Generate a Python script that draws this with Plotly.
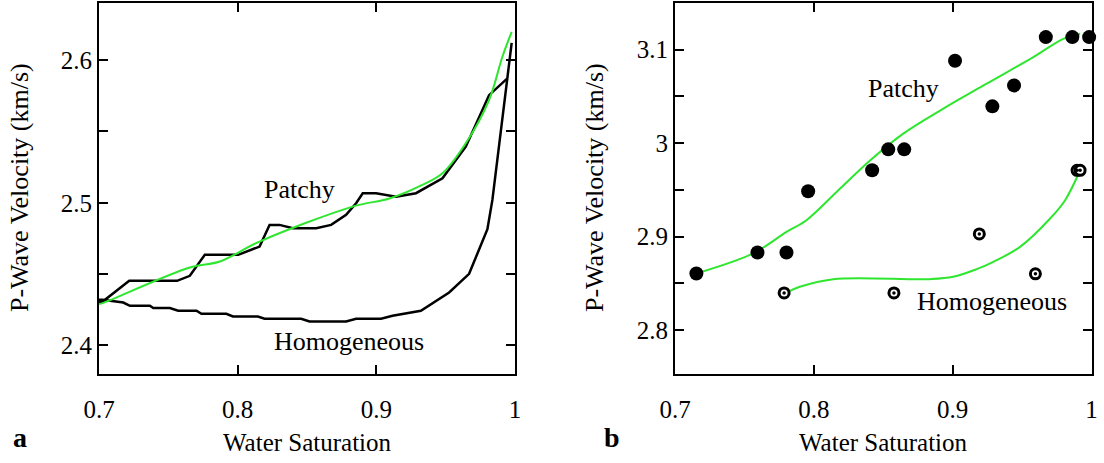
import plotly.graph_objects as go

# ---------------- Panel a data ----------------
a_patchy_sw = [0.700, 0.7027, 0.7218, 0.7563, 0.7655, 0.7763, 0.8003, 0.8158, 0.8230, 0.8302,
               0.8398, 0.8566, 0.8674, 0.8782, 0.8854, 0.8902, 0.8998, 0.9142, 0.9286, 0.9477,
               0.9645, 0.9813, 0.9945]
a_patchy_v = [2.4300, 2.4308, 2.4453, 2.4453, 2.4488, 2.4635, 2.4635, 2.4693, 2.4845, 2.4845,
              2.4822, 2.4822, 2.4845, 2.4915, 2.4997, 2.5067, 2.5067, 2.5043, 2.5067, 2.5172,
              2.5393, 2.5754, 2.5872]

a_homog_sw = [0.700, 0.7027, 0.7175, 0.7223, 0.7367, 0.7391, 0.7511, 0.7571, 0.7703, 0.7739,
              0.7918, 0.7966, 0.8146, 0.8194, 0.8458, 0.8518, 0.8782, 0.8854, 0.9034, 0.9117,
              0.9321, 0.9405, 0.9525, 0.9669, 0.9801, 0.9837, 0.9976]
a_homog_v = [2.4320, 2.4320, 2.4301, 2.4278, 2.4278, 2.4262, 2.4262, 2.4243, 2.4243, 2.4222,
             2.4222, 2.4203, 2.4203, 2.4187, 2.4187, 2.4168, 2.4168, 2.4187, 2.4187, 2.4208,
             2.4243, 2.4297, 2.4371, 2.4502, 2.4815, 2.5020, 2.6121]

a_fit_sw = [0.700, 0.7027, 0.7655, 0.7871, 0.8158, 0.8830, 0.9094, 0.9309, 0.9477, 0.9645,
            0.9813, 0.9909, 0.9976]
a_fit_v = [2.4290, 2.4297, 2.4546, 2.4588, 2.4728, 2.4973, 2.5030, 2.5115, 2.5207, 2.5417,
           2.5720, 2.6023, 2.6198]

# ---------------- Panel b data ----------------
b_patchy_sw = [0.7154, 0.7594, 0.7803, 0.7959, 0.8420, 0.8536, 0.8651, 0.9017, 0.9286, 0.9442,
               0.9671, 0.9862, 0.9983]
b_patchy_v = [2.8606, 2.8830, 2.8830, 2.9485, 2.9710, 2.9934, 2.9934, 3.0882, 3.0394, 3.0618,
              3.1135, 3.1135, 3.1135]

b_homog_sw = [0.7786, 0.8577, 0.9192, 0.9596, 0.9896, 0.9918]
b_homog_v = [2.8398, 2.8398, 2.9029, 2.8602, 2.9710, 2.9710]

b_fitp_sw = [0.7154, 0.7562, 0.7803, 0.7947, 0.8164, 0.8407, 0.8644, 0.8933, 0.9245, 0.9581,
             0.9797, 0.9918]
b_fitp_v = [2.8606, 2.8820, 2.9050, 2.9176, 2.9478, 2.9817, 3.0102, 3.0370, 3.0637, 3.0921,
            3.1117, 3.1171]

b_fith_sw = [0.7815, 0.7899, 0.8140, 0.8836, 0.9004, 0.9173, 0.9293, 0.9485, 0.9702, 0.9810,
             0.9918]
b_fith_v = [2.8409, 2.8463, 2.8545, 2.8545, 2.8570, 2.8652, 2.8730, 2.8890, 2.9194, 2.9390,
            2.9710]

x_ticks = [0.7, 0.8, 0.9, 1.0]
x_ticktext = ["0.7", "0.8", "0.9", "1"]
a_yticks = [2.4, 2.45, 2.5, 2.55, 2.6]
a_yticktext = ["2.4", "", "2.5", "", "2.6"]
b_yticks = [2.8, 2.85, 2.9, 2.95, 3.0, 3.05, 3.1]
b_yticktext = ["2.8", "", "2.9", "", "3", "", "3.1"]

FONT = "Liberation Serif"
GREEN = "#2fe62f"
W, H = 1104, 463

fig = go.Figure()

# panel a
fig.add_trace(go.Scatter(x=a_patchy_sw, y=a_patchy_v, mode="lines",
                         line=dict(color="black", width=2.5), xaxis="x", yaxis="y"))
fig.add_trace(go.Scatter(x=a_homog_sw, y=a_homog_v, mode="lines",
                         line=dict(color="black", width=2.5), xaxis="x", yaxis="y"))
fig.add_trace(go.Scatter(x=a_fit_sw, y=a_fit_v, mode="lines", line_shape="spline",
                         line=dict(color=GREEN, width=2), xaxis="x", yaxis="y"))

# panel b
fig.add_trace(go.Scatter(x=b_fitp_sw, y=b_fitp_v, mode="lines", line_shape="spline",
                         line=dict(color=GREEN, width=2), xaxis="x2", yaxis="y2"))
fig.add_trace(go.Scatter(x=b_fith_sw, y=b_fith_v, mode="lines", line_shape="spline",
                         line=dict(color=GREEN, width=2), xaxis="x2", yaxis="y2"))
fig.add_trace(go.Scatter(x=b_patchy_sw, y=b_patchy_v, mode="markers",
                         marker=dict(color="black", size=14, line=dict(width=0)),
                         xaxis="x2", yaxis="y2", cliponaxis=False))
fig.add_trace(go.Scatter(x=b_homog_sw, y=b_homog_v, mode="markers",
                         marker=dict(color="white", size=10, line=dict(color="black", width=3)),
                         xaxis="x2", yaxis="y2", cliponaxis=False))
fig.add_trace(go.Scatter(x=b_homog_sw, y=b_homog_v, mode="markers",
                         marker=dict(color="black", size=3.5, line=dict(width=0)),
                         xaxis="x2", yaxis="y2", cliponaxis=False))

def xax(domain, anchor):
    return dict(domain=domain, anchor=anchor, range=[0.7, 1.0], tickvals=x_ticks,
                ticktext=x_ticktext, ticks="inside", ticklen=9, tickwidth=2,
                tickcolor="black", showline=True, linecolor="black", linewidth=2,
                mirror="ticks", showgrid=False, zeroline=False, automargin=False,
                ticklabelstandoff=12,
                tickfont=dict(family=FONT, size=25, color="black"))

def yax(domain, anchor, rng, tv, tt):
    return dict(domain=domain, anchor=anchor, range=rng, tickvals=tv, ticktext=tt,
                ticks="inside", ticklen=9, tickwidth=2, tickcolor="black",
                showline=True, linecolor="black", linewidth=2, mirror="ticks",
                showgrid=False, zeroline=False, automargin=False,
                tickfont=dict(family=FONT, size=25, color="black"))

ydom = [1 - 374 / H, 1 - 3 / H]
fig.update_layout(
    width=W, height=H, margin=dict(l=0, r=0, t=0, b=0, autoexpand=False),
    paper_bgcolor="white", plot_bgcolor="white", showlegend=False,
    xaxis=xax([99 / W, 515 / W], "y"),
    yaxis=yax(ydom, "x", [2.38, 2.64], a_yticks, a_yticktext),
    xaxis2=xax([675 / W, 1091.5 / W], "y2"),
    yaxis2=yax(ydom, "x2", [2.753, 3.15], b_yticks, b_yticktext),
)

ann = []
def txt(x, y, t, xref, yref, size=26, angle=0, bold=False):
    ann.append(dict(x=x, y=y, xref=xref, yref=yref, text=("<b>%s</b>" % t) if bold else t,
                    showarrow=False, textangle=angle,
                    font=dict(family=FONT, size=size, color="black"),
                    xanchor="center", yanchor="middle"))

txt(0.8446, 2.509, "Patchy", "x", "y")
txt(0.8806, 2.4028, "Homogeneous", "x", "y")
txt(0.8644, 3.0583, "Patchy", "x2", "y2")
txt(0.9282, 2.8302, "Homogeneous", "x2", "y2")
# axis titles
txt(307 / W, 1 - 442 / H, "Water Saturation", "paper", "paper", size=25)
txt(883 / W, 1 - 442 / H, "Water Saturation", "paper", "paper", size=25)
txt(20 / W, 1 - 188 / H, "P-Wave Velocity (km/s)", "paper", "paper", size=26, angle=-90)
txt(595 / W, 1 - 188 / H, "P-Wave Velocity (km/s)", "paper", "paper", size=26, angle=-90)
# panel letters
txt(20 / W, 1 - 437 / H, "a", "paper", "paper", size=28, bold=True)
txt(612 / W, 1 - 437 / H, "b", "paper", "paper", size=28, bold=True)
fig.update_layout(annotations=ann)

fig.write_html("out.html")
